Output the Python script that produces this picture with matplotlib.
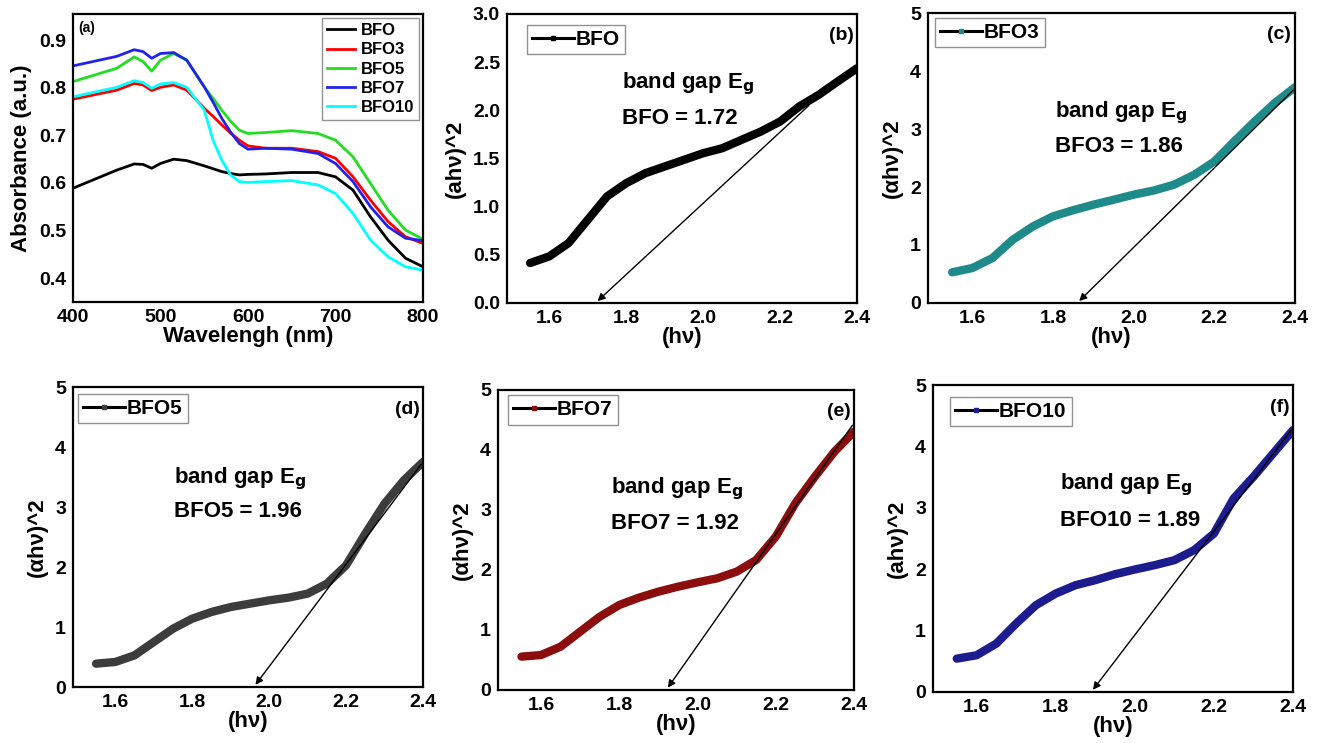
import numpy as np
import matplotlib
matplotlib.use("Agg")
import matplotlib.pyplot as plt
from matplotlib.lines import Line2D

plt.rcParams['font.family'] = ['Liberation Sans', 'DejaVu Sans']
plt.rcParams['font.weight'] = 'bold'
plt.rcParams['axes.labelweight'] = 'bold'
plt.rcParams['mathtext.default'] = 'bf'

# ---- panel (a): absorbance spectra ----
wl = [400, 450, 470, 480, 490, 500, 515, 530, 550, 560, 570, 580, 590, 600, 620, 650, 680, 700, 720, 740, 760, 780, 800]
abs_bfo = [0.589, 0.627, 0.640, 0.639, 0.631, 0.641, 0.650, 0.647, 0.636, 0.630, 0.624, 0.620, 0.617, 0.618, 0.619, 0.622, 0.622, 0.613, 0.585, 0.529, 0.480, 0.442, 0.424]
abs_bfo3 = [0.776, 0.795, 0.809, 0.806, 0.794, 0.801, 0.806, 0.795, 0.757, 0.740, 0.722, 0.705, 0.690, 0.678, 0.673, 0.673, 0.666, 0.652, 0.613, 0.564, 0.519, 0.487, 0.473]
abs_bfo5 = [0.813, 0.841, 0.865, 0.855, 0.835, 0.858, 0.872, 0.858, 0.802, 0.778, 0.753, 0.730, 0.711, 0.704, 0.706, 0.710, 0.704, 0.690, 0.655, 0.599, 0.543, 0.501, 0.482]
abs_bfo7 = [0.846, 0.866, 0.880, 0.876, 0.862, 0.872, 0.874, 0.858, 0.802, 0.770, 0.736, 0.707, 0.683, 0.671, 0.673, 0.671, 0.662, 0.641, 0.603, 0.550, 0.508, 0.484, 0.479]
abs_bfo10 = [0.781, 0.801, 0.815, 0.811, 0.799, 0.808, 0.811, 0.801, 0.753, 0.690, 0.648, 0.617, 0.603, 0.601, 0.603, 0.605, 0.596, 0.578, 0.536, 0.480, 0.445, 0.424, 0.417]

# ---- panels (b)-(f): Tauc plots ----
hv = [1.55, 1.60, 1.65, 1.70, 1.75, 1.80, 1.85, 1.90, 1.95, 2.00, 2.05, 2.10, 2.15, 2.20, 2.25, 2.30, 2.35, 2.40]
tauc_bfo = [0.415, 0.484, 0.622, 0.864, 1.106, 1.244, 1.348, 1.417, 1.486, 1.555, 1.607, 1.694, 1.780, 1.884, 2.040, 2.160, 2.300, 2.437]
tauc_bfo3 = [0.529, 0.603, 0.776, 1.090, 1.320, 1.494, 1.600, 1.695, 1.780, 1.868, 1.940, 2.040, 2.210, 2.440, 2.790, 3.130, 3.450, 3.720]
tauc_bfo5 = [0.389, 0.417, 0.528, 0.750, 0.972, 1.139, 1.250, 1.333, 1.389, 1.444, 1.489, 1.556, 1.722, 2.028, 2.556, 3.056, 3.444, 3.750]
tauc_bfo7 = [0.556, 0.583, 0.722, 0.972, 1.222, 1.417, 1.539, 1.639, 1.722, 1.794, 1.861, 1.972, 2.167, 2.556, 3.111, 3.556, 3.972, 4.306]
tauc_bfo10 = [0.543, 0.598, 0.788, 1.114, 1.413, 1.603, 1.739, 1.821, 1.918, 1.995, 2.065, 2.147, 2.310, 2.580, 3.152, 3.505, 3.886, 4.266]

names = ['BFO', 'BFO3', 'BFO5', 'BFO7', 'BFO10']
gaps = [1.72, 1.86, 1.96, 1.92, 1.89]
arrow_start = [(2.28, 2.07), (2.40, 3.70), (2.40, 3.75), (2.40, 4.45), (2.40, 4.30)]
text_pos = [(1.79, 2.28, 1.92), (1.804, 3.28, 2.70), (1.753, 3.47, 2.92), (1.778, 3.36, 2.78), (1.811, 3.37, 2.80)]
ylabels = ['(ah\u03bd)^2', '(\u03b1h\u03bd)^2', '(\u03b1h\u03bd)^2', '(\u03b1h\u03bd)^2', '(ah\u03bd)^2']
panel_tags = ['(b)', '(c)', '(d)', '(e)', '(f)']
tauc_colors = ['black', '#1f8a8a', '#3c3c3c', '#8c0d0d', '#1c1c8e']

W, H = 1322, 743
fig = plt.figure(figsize=(W / 100, H / 100), dpi=100)


def box(l, r, t, b):
    return [l / W, (H - b) / H, (r - l) / W, (b - t) / H]


def style(ax):
    for s in ax.spines.values():
        s.set_linewidth(1.6)
    ax.tick_params(length=0, labelsize=14, pad=5)
    for lab in ax.get_xticklabels() + ax.get_yticklabels():
        lab.set_fontweight('bold')


# (a)
ax = fig.add_axes(box(73, 423, 14, 302))
series = [abs_bfo, abs_bfo3, abs_bfo5, abs_bfo7, abs_bfo10]
cols = ['black', 'red', '#22dd22', '#2222ee', 'cyan']
for name, ys, c in zip(names, series, cols):
    ax.plot(wl, ys, color=c, lw=2, label=name)
ax.set_xlim(400, 800)
ax.set_ylim(0.35, 0.955)
ax.set_xticks([400, 500, 600, 700, 800])
ax.set_yticks([0.4, 0.5, 0.6, 0.7, 0.8, 0.9])
ax.set_xlabel('Wavelengh (nm)', fontsize=16, labelpad=0)
ax.set_ylabel('Absorbance (a.u.)', fontsize=16, labelpad=5)
ax.text(0.015, 0.975, '(a)', transform=ax.transAxes, fontsize=10, va='top', fontweight='bold')
leg = ax.legend(loc='upper right', fontsize=12, frameon=True, fancybox=False,
                edgecolor='#777777', handlelength=1.7, handletextpad=0.3, borderaxespad=0.25,
                labelspacing=0.25, borderpad=0.3)
leg.get_frame().set_linewidth(1.0)
style(ax)

boxes = [box(507, 857, 14, 303), box(928, 1295, 13, 303), box(73, 423, 387, 687),
         box(498, 854, 390, 690), box(933, 1293, 385, 692)]
leg_anchor = [(0.057, 0.962), (0.019, 0.983), (0.014, 0.977), (0.028, 0.983), (0.047, 0.961)]
tauc = [tauc_bfo, tauc_bfo3, tauc_bfo5, tauc_bfo7, tauc_bfo10]

for i in range(5):
    ax = fig.add_axes(boxes[i])
    ax.plot(hv, tauc[i], color=tauc_colors[i], lw=6, solid_capstyle='round', solid_joinstyle='round')
    ax.annotate('', xy=(gaps[i], 0), xytext=arrow_start[i],
                arrowprops=dict(arrowstyle='-|>', color='black', lw=1.0, mutation_scale=11))
    ax.set_xlim(1.49, 2.4)
    if i == 0:
        ax.set_ylim(0, 3.0)
        ax.set_yticks([0.0, 0.5, 1.0, 1.5, 2.0, 2.5, 3.0])
        ax.set_yticklabels(['%.1f' % v for v in [0.0, 0.5, 1.0, 1.5, 2.0, 2.5, 3.0]])
    else:
        ax.set_ylim(0, 5)
        ax.set_yticks([0, 1, 2, 3, 4, 5])
    ax.set_xticks([1.6, 1.8, 2.0, 2.2, 2.4])
    ax.set_xticklabels(['1.6', '1.8', '2.0', '2.2', '2.4'])
    ax.set_xlabel('(h\u03bd)', fontsize=16, labelpad=0)
    ax.set_ylabel(ylabels[i], fontsize=16, labelpad=5)
    tx, ty1, ty2 = text_pos[i]
    ax.text(tx, ty1, 'band gap E$_\\mathbf{g}$', fontsize=16, va='center', fontweight='bold')
    ax.text(tx, ty2, '%s = %.2f' % (names[i], gaps[i]), fontsize=16, va='center', fontweight='bold')
    ax.text(0.99, 0.955, panel_tags[i], transform=ax.transAxes, fontsize=14, ha='right', va='top',
            fontweight='bold')
    handle = Line2D([], [], color='black', lw=2.2, marker='s', markersize=3.5,
                    markerfacecolor=tauc_colors[i], markeredgecolor=tauc_colors[i])
    leg = ax.legend([handle], [names[i]], loc='upper left', bbox_to_anchor=leg_anchor[i],
                    fontsize=15, frameon=True, fancybox=False, edgecolor='#777777',
                    handlelength=2.0, handletextpad=0.1, borderpad=0.25, borderaxespad=0.0,
                    numpoints=1)
    leg.get_frame().set_linewidth(1.0)
    style(ax)

fig.savefig('out.png', dpi=100)
